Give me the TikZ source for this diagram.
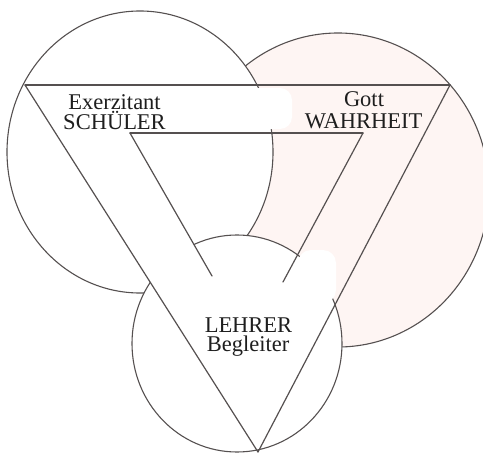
\documentclass[tikz,border=0pt]{standalone}
\usepackage{fontspec}
\setmainfont{Liberation Serif}
\usetikzlibrary{calc}
\definecolor{edge}{RGB}{85,80,80}
\definecolor{blush}{RGB}{254,245,243}
\definecolor{ink}{RGB}{30,30,30}
\tikzset{
  outline/.style={draw=edge, line width=1.1pt},
  bar/.style={draw=edge, line width=1.2pt, line cap=round},
  label/.style={anchor=base, inner sep=0pt, text=ink, font=\fontsize{22.5}{20}\selectfont},
  cover/.style={fill=white, draw=none}
}
\begin{document}
\begin{tikzpicture}[x=1pt, y=-1pt]
  \useasboundingbox (0,0) rectangle (483,455);
  \clip (0,0) rectangle (483,455);

  % circle centres
  \coordinate (cT) at (338,190);   % truth
  \coordinate (cS) at (140,152);   % pupil
  \coordinate (cL) at (237,343.5); % teacher

  % triangle corners
  \coordinate (A) at (25,85);
  \coordinate (B) at (450,85);
  \coordinate (C) at (258,452);
  \coordinate (D) at (130,133);
  \coordinate (E) at (363,133);
  \coordinate (F) at (212,276);
  \coordinate (G) at (283,282);

  % the three circles, later ones on top
  \path[outline, fill=blush] (cT) ellipse [x radius=151pt, y radius=157pt];
  \path[outline, fill=white] (cS) ellipse [x radius=133pt, y radius=141pt];
  \path[outline, fill=white] (cL) ellipse [x radius=105pt, y radius=108.5pt];

  % white patches behind the labels
  \path[cover, rounded corners=12pt] (200,88) rectangle (292,129);
  \path[cover, rounded corners=13pt] (298,250) rectangle (336,303);
  \path[cover] ($(A)!0.4087!(C)$) -- ($(A)!0.5804!(C)$) -- ($(D)!1.154!(F)$) -- ($(D)!0.713!(F)$) -- cycle;

  % outer and inner triangle
  \draw[bar] (A) -- (B);
  \draw[bar] (A) -- (C);
  \draw[bar] (B) -- (C);
  \draw[bar] (D) -- (E);
  \draw[bar] (D) -- (F);
  \draw[bar] (E) -- (G);

  % labels
  \node[label] (s1) at (114.5,109) {Exerzitant};
  \node[label] (s2) at (114.5,129) {SCHÜLER};
  \node[label] (t1) at (364,106) {Gott};
  \node[label] (t2) at (363.5,128) {WAHRHEIT};
  \node[label] (l1) at (248.5,332) {LEHRER};
  \node[label] (l2) at (248,351) {Begleiter};
\end{tikzpicture}
\end{document}
